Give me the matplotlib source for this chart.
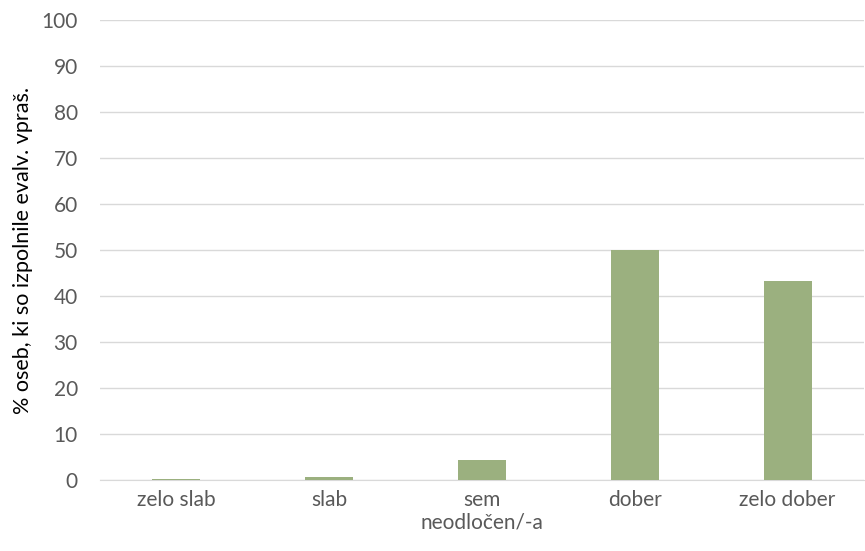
import matplotlib.pyplot as plt

# ocene in deleži oseb (%)
categories = ["zelo slab", "slab", "sem\nneodločen/-a", "dober", "zelo dober"]
percent = [0.3, 0.6, 4.3, 50.0, 43.3]
y_ticks = [0, 10, 20, 30, 40, 50, 60, 70, 80, 90, 100]

plt.rcParams['font.family'] = ['Lato', 'DejaVu Sans']

fig = plt.figure(figsize=(8.65, 5.51), dpi=100)
ax = fig.add_axes([0.1156, 0.129, 0.8832, 0.834])

ax.bar(range(len(categories)), percent, width=0.315, color="#9BB07F", zorder=3)

ax.set_xlim(-0.5, len(categories) - 0.5)
ax.set_ylim(0, 100)
ax.set_yticks(y_ticks)
ax.set_xticks(range(len(categories)))
ax.set_xticklabels(categories, linespacing=1.2)
ax.grid(axis="y", color="#D9D9D9", linewidth=1, zorder=0)
ax.tick_params(axis="both", length=0, labelsize=15, colors="#595959", pad=7)
ax.tick_params(axis="y", pad=16)
for side in ["top", "right", "left"]:
    ax.spines[side].set_visible(False)
ax.spines["bottom"].set_color("#D9D9D9")

ax.set_ylabel("% oseb, ki so izpolnile evalv. vpraš.", fontsize=15.5, color="black", labelpad=6)

plt.savefig("out.png", dpi=100)
